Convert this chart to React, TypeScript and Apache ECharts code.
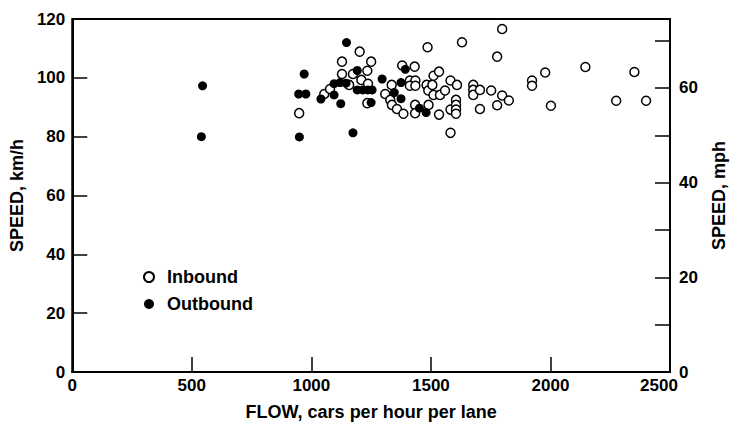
import React, { useEffect, useRef } from "react";
import * as echarts from "echarts";

const inboundFlow = [
  949, 1054, 1078, 1128, 1128, 1158, 1174, 1202, 1209, 1234, 1237, 1234, 1250,
  1309, 1330, 1336, 1337, 1358, 1380, 1385, 1412, 1435, 1412, 1435, 1432, 1434,
  1434, 1482, 1486, 1489, 1490, 1506, 1511, 1511, 1534, 1538, 1534, 1559, 1582,
  1582, 1582, 1605, 1605, 1605, 1605, 1609, 1630, 1677, 1677, 1677, 1705, 1705,
  1752, 1777, 1777, 1798, 1798, 1826, 1923, 1923, 1978, 2002, 2146, 2275, 2351,
  2400,
];
const inboundSpeed = [
  88.0, 94.5, 96.2, 105.5, 101.3, 97.6, 101.3, 108.9, 99.3, 102.4, 98.0, 91.4, 105.5,
  94.5, 92.5, 97.6, 90.8, 89.4, 104.2, 87.8, 99.1, 99.1, 97.3, 97.3, 103.8, 90.8,
  88.0, 97.6, 110.4, 95.7, 90.8, 97.6, 100.7, 94.2, 102.1, 94.2, 87.5, 95.7, 99.1,
  89.2, 81.3, 92.5, 90.8, 89.2, 87.8, 97.6, 112.1, 97.6, 95.9, 94.2, 95.9, 89.4,
  95.7, 107.2, 90.7, 116.6, 94.0, 92.3, 99.1, 97.3, 101.8, 90.5, 103.7, 92.2, 102.0,
  92.2,
];
const outboundFlow = [
  540, 545, 950, 947, 977, 970, 1040, 1147, 1174, 1123, 1192, 1192, 1215, 1236,
  1254, 1250, 1095, 1120, 1145, 1095, 1296, 1347, 1375, 1375, 1393, 1452, 1480,
];
const outboundSpeed = [
  80.0, 97.3, 79.9, 94.5, 94.5, 101.3, 92.8, 112.0, 81.3, 91.2, 102.5, 95.9, 95.9, 95.9,
  95.9, 91.6, 98.0, 98.4, 98.2, 94.2, 99.6, 95.0, 98.4, 92.9, 102.9, 89.7, 88.2,
];

const flowTicks = [0, 500, 1000, 1500, 2000, 2500];
const kmhTicks = [0, 20, 40, 60, 80, 100, 120];
const mphTicks = [0, 10, 20, 30, 40, 50, 60, 70];
const mphLabels = [0, 20, 40, 60];
const KMH_PER_MPH = 1.609344;

const titles = {
  x: "FLOW, cars per hour per lane",
  yLeft: "SPEED, km/h",
  yRight: "SPEED, mph",
  inbound: "Inbound",
  outbound: "Outbound",
};

export default function App() {
  const ref = useRef<HTMLDivElement>(null);
  useEffect(() => {
    const chart = echarts.init(ref.current!, null, { renderer: "svg" });
    const font = {
      fontFamily: "Liberation Sans",
      fontWeight: "bold" as const,
      color: "#000",
    };
    const inbound = inboundFlow.map((f, i) => [f, inboundSpeed[i]]);
    const outbound = outboundFlow.map((f, i) => [f, outboundSpeed[i]]);
    const tickStyle = { color: "#000", width: 1.5 };
    const lineStyle = { color: "#000", width: 2 };
    const xMax = flowTicks[flowTicks.length - 1];
    chart.setOption({
      animation: false,
      backgroundColor: "#fff",
      grid: {
        left: 70,
        right: 58,
        top: 19,
        bottom: 53,
        show: true,
        borderColor: "#000",
        borderWidth: 2,
        backgroundColor: "transparent",
      },
      legend: {
        orient: "vertical",
        left: 138,
        top: 263,
        itemWidth: 26,
        itemHeight: 10,
        itemGap: 9,
        textStyle: { ...font, fontSize: 18, padding: [0, 0, 0, 0] },
        data: [
          { name: titles.inbound, icon: "circle" },
          { name: titles.outbound, icon: "circle" },
        ],
      },
      xAxis: {
        type: "value",
        min: flowTicks[0],
        max: xMax,
        interval: 500,
        name: titles.x,
        nameLocation: "middle",
        nameGap: 31,
        nameTextStyle: { ...font, fontSize: 18 },
        axisLine: { onZero: false, lineStyle },
        axisTick: { inside: true, length: 15, lineStyle: tickStyle },
        axisLabel: {
          ...font,
          fontSize: 17,
          margin: 5,
          formatter: (v: number) => (v === xMax ? `{m|${v}}` : `${v}`),
          rich: {
            m: { ...font, fontSize: 17, padding: [0, 22, 0, 0] },
          },
        },
        splitLine: { show: false },
      },
      yAxis: [
        {
          type: "value",
          min: kmhTicks[0],
          max: kmhTicks[kmhTicks.length - 1],
          interval: 20,
          position: "left",
          name: titles.yLeft,
          nameLocation: "middle",
          nameRotate: 90,
          nameGap: 42,
          nameTextStyle: { ...font, fontSize: 18 },
          axisLine: { onZero: false, lineStyle },
          axisTick: { inside: true, length: 15, lineStyle: tickStyle },
          axisLabel: { ...font, fontSize: 17, margin: 7, formatter: (v: number) => `${v}` },
          splitLine: { show: false },
        },
        {
          type: "value",
          min: 0,
          max: 120 / KMH_PER_MPH,
          position: "right",
          name: titles.yRight,
          nameLocation: "middle",
          nameRotate: 90,
          nameGap: 40,
          nameTextStyle: { ...font, fontSize: 18 },
          axisLine: { onZero: false, lineStyle },
          axisTick: {
            inside: true,
            length: 15,
            lineStyle: tickStyle,
            customValues: mphTicks,
          },
          axisLabel: {
            ...font,
            fontSize: 17,
            margin: 9,
            customValues: mphLabels,
            formatter: (v: number) => `${v}`,
          },
          splitLine: { show: false },
        },
      ],
      series: [
        {
          type: "scatter",
          name: titles.inbound,
          yAxisIndex: 0,
          data: inbound,
          symbol: "circle",
          symbolSize: 9,
          itemStyle: { color: "#fff", borderColor: "#000", borderWidth: 1.5, opacity: 1 },
        },
        {
          type: "scatter",
          name: titles.outbound,
          yAxisIndex: 0,
          data: outbound,
          symbol: "circle",
          symbolSize: 9,
          itemStyle: { color: "#000", opacity: 1 },
        },
      ],
    });
    return () => chart.dispose();
  }, []);
  return (
    <div
      ref={ref}
      style={{ position: "fixed", left: 0, top: 0, width: 736, height: 426 }}
    />
  );
}
